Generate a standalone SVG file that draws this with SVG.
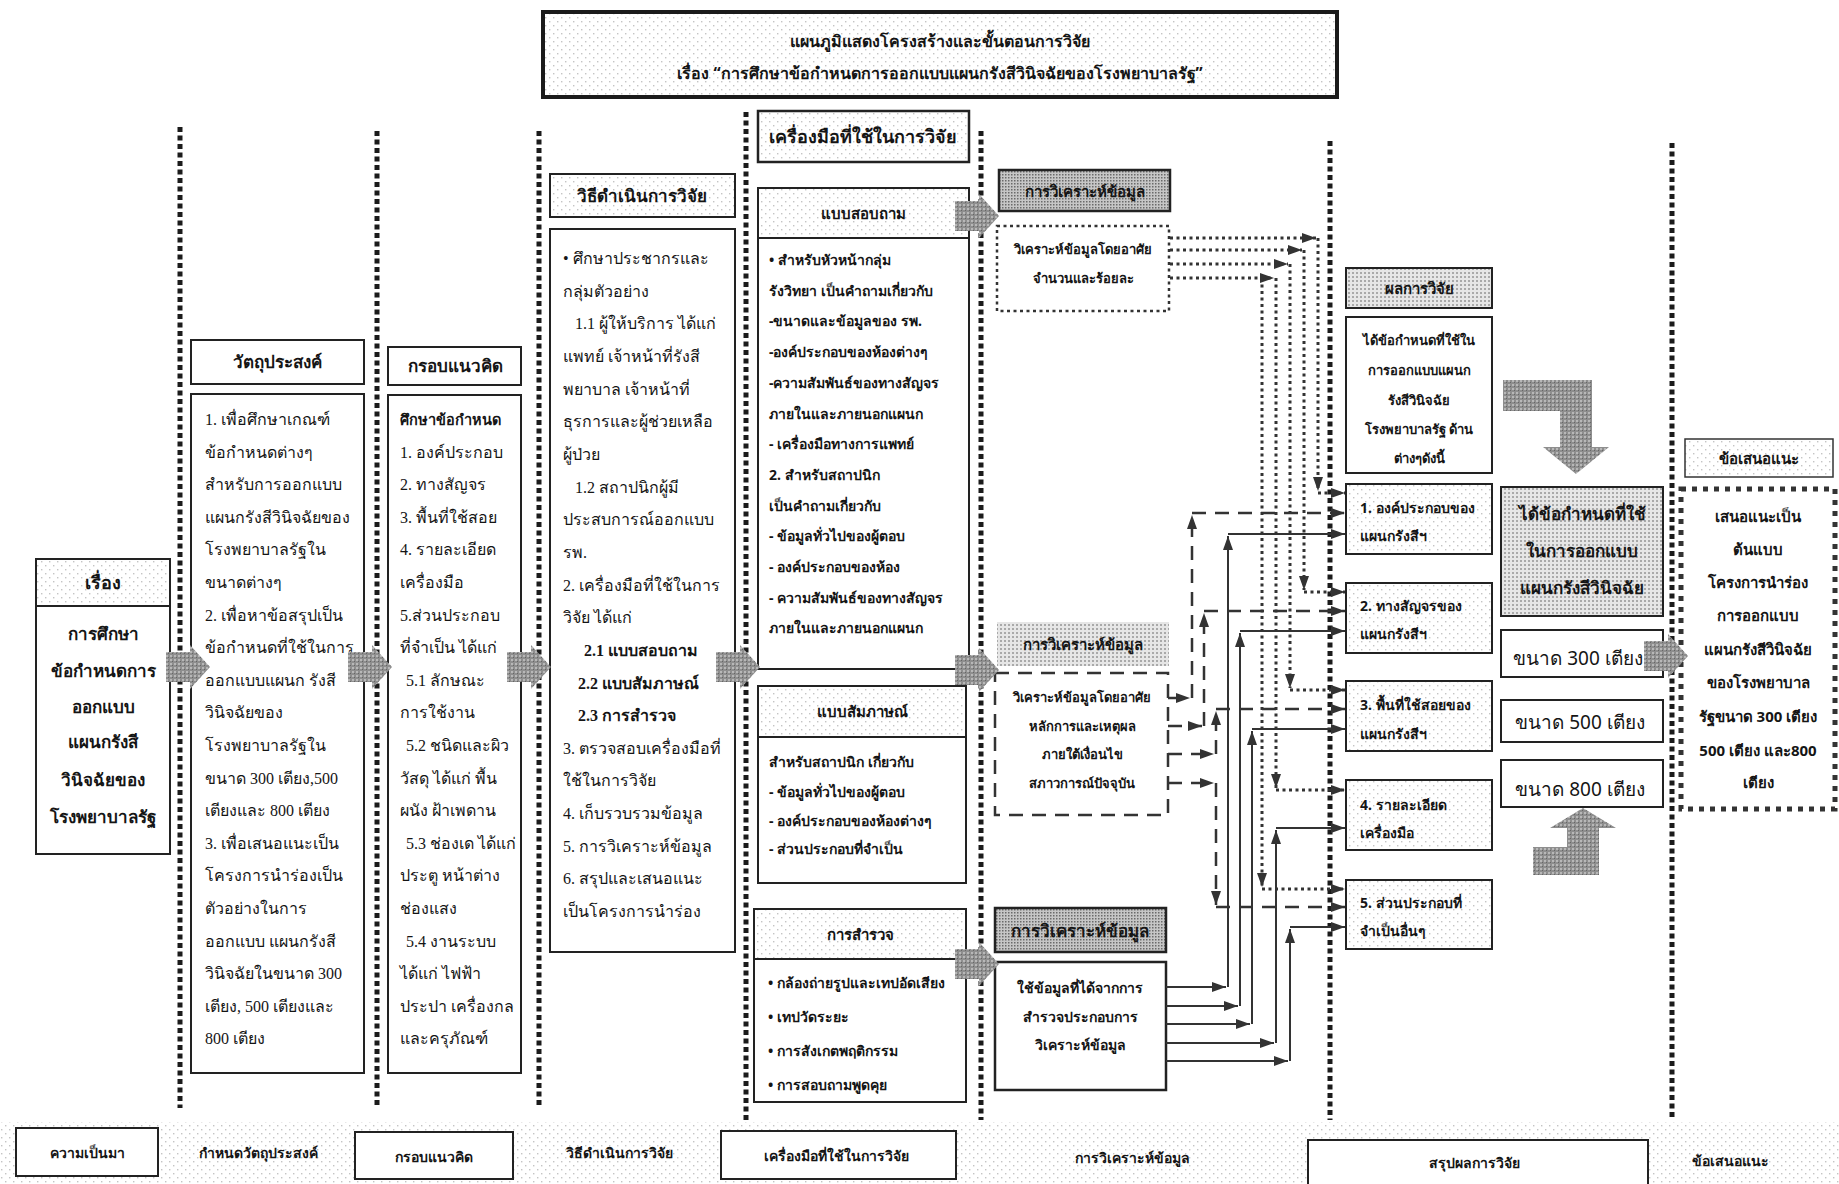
<svg xmlns="http://www.w3.org/2000/svg" width="1839" height="1184" viewBox="0 0 1839 1184">
<defs>
<style>
text{font-family:"Noto Sans","DejaVu Sans",sans-serif;fill:#151515}
.s{font-family:"Liberation Serif","Noto Sans",serif;font-size:16px}
.m{font-size:14px;font-weight:bold}
.h{font-weight:bold;text-anchor:middle}
.c{text-anchor:middle}
.bd{font-weight:bold}
.box{fill:#fff;stroke:#222;stroke-width:2}
.sep{fill:none;stroke:#1b1b1b;stroke-width:5;stroke-dasharray:5 3.5}
.dt{fill:none;stroke:#333;stroke-width:3;stroke-dasharray:3 3.5}
.ds{fill:none;stroke:#333;stroke-width:2.5;stroke-dasharray:14 9}
.sl{fill:none;stroke:#333;stroke-width:2}
</style>
<pattern id="pLight" width="8" height="8" patternUnits="userSpaceOnUse"><rect width="8" height="8" fill="#fff"/><rect x="1" y="1" width="1.4" height="1.4" fill="#c4c4c4"/><rect x="5" y="5" width="1.4" height="1.4" fill="#c4c4c4"/></pattern>
<pattern id="pMed" width="4" height="4" patternUnits="userSpaceOnUse"><rect width="4" height="4" fill="#e6e6e6"/><rect width="2" height="2" fill="#a9a9a9"/></pattern>
<pattern id="pDark" width="3" height="3" patternUnits="userSpaceOnUse"><rect width="3" height="3" fill="#c6c6c6"/><rect width="1.5" height="1.5" fill="#6a6a6a"/></pattern>
<pattern id="pArrow" width="4" height="4" patternUnits="userSpaceOnUse"><rect width="4" height="4" fill="#8e8e8e"/><rect width="2" height="2" fill="#b8b8b8"/><rect x="2" y="2" width="1" height="1" fill="#666"/></pattern>
<marker id="ah" viewBox="0 0 14 10" refX="14" refY="5" markerWidth="14" markerHeight="10" markerUnits="userSpaceOnUse" orient="auto"><path d="M0 0L14 5L0 10z" fill="#333"/></marker>
<path id="blk" d="M0 -15H24V-22L44 0L24 22V15H0Z"/>
</defs>

<rect width="1839" height="1184" fill="#fff"/>

<!-- column separators -->
<g id="separators">
<line class="sep" x1="180" y1="127" x2="180" y2="1108"/>
<line class="sep" x1="377" y1="131" x2="377" y2="1108"/>
<line class="sep" x1="539" y1="131" x2="539" y2="1108"/>
<line class="sep" x1="746" y1="112" x2="746" y2="1120"/>
<line class="sep" x1="981" y1="131" x2="981" y2="1120"/>
<line class="sep" x1="1330" y1="141" x2="1330" y2="1120"/>
<line class="sep" x1="1672" y1="143" x2="1672" y2="1120"/>
</g>

<!-- heading -->
<g id="title">
<rect x="543" y="12" width="794" height="85" fill="url(#pLight)" stroke="#1b1b1b" stroke-width="4"/>
<text class="h" x="940" y="47" font-size="16">แผนภูมิแสดงโครงสร้างและขั้นตอนการวิจัย</text>
<text class="h" x="940" y="79" font-size="16">เรื่อง “การศึกษาข้อกำหนดการออกแบบแผนกรังสีวินิจฉัยของโรงพยาบาลรัฐ”</text>
</g>

<!-- topic -->
<g id="topic">
<rect x="36" y="559" width="134" height="47" fill="url(#pLight)" stroke="#222" stroke-width="2"/>
<text class="h" x="103" y="589" font-size="18">เรื่อง</text>
<rect class="box" x="36" y="606" width="134" height="248"/>
<text class="h" font-size="17"><tspan x="103" y="640">การศึกษา</tspan><tspan x="103" y="677">ข้อกำหนดการ</tspan><tspan x="103" y="713">ออกแบบ</tspan><tspan x="103" y="748">แผนกรังสี</tspan><tspan x="103" y="786">วินิจฉัยของ</tspan><tspan x="103" y="823">โรงพยาบาลรัฐ</tspan></text>
</g>

<!-- objectives -->
<g id="objectives">
<rect class="box" x="191" y="340" width="173" height="44"/>
<text class="h" x="277" y="368" font-size="17">วัตถุประสงค์</text>
<rect class="box" x="191" y="394" width="173" height="679"/>
<text class="s"><tspan x="205" y="425">1. เพื่อศึกษาเกณฑ์</tspan><tspan x="205" y="458">ข้อกำหนดต่างๆ</tspan><tspan x="205" y="490">สำหรับการออกแบบ</tspan><tspan x="205" y="523">แผนกรังสีวินิจฉัยของ</tspan><tspan x="205" y="555">โรงพยาบาลรัฐใน</tspan><tspan x="205" y="588">ขนาดต่างๆ</tspan><tspan x="205" y="621">2. เพื่อหาข้อสรุปเป็น</tspan><tspan x="205" y="653">ข้อกำหนดที่ใช้ในการ</tspan><tspan x="205" y="686">ออกแบบแผนก รังสี</tspan><tspan x="205" y="718">วินิจฉัยของ</tspan><tspan x="205" y="751">โรงพยาบาลรัฐใน</tspan><tspan x="205" y="784">ขนาด 300 เตียง,500</tspan><tspan x="205" y="816">เตียงและ 800 เตียง</tspan><tspan x="205" y="849">3. เพื่อเสนอแนะเป็น</tspan><tspan x="205" y="881">โครงการนำร่องเป็น</tspan><tspan x="205" y="914">ตัวอย่างในการ</tspan><tspan x="205" y="947">ออกแบบ แผนกรังสี</tspan><tspan x="205" y="979">วินิจฉัยในขนาด 300</tspan><tspan x="205" y="1012">เตียง, 500 เตียงและ</tspan><tspan x="205" y="1044">800 เตียง</tspan></text>
</g>

<!-- conceptual framework -->
<g id="framework">
<rect class="box" x="388" y="347" width="133" height="38"/>
<text class="h" x="455" y="372" font-size="17">กรอบแนวคิด</text>
<rect class="box" x="388" y="395" width="133" height="678"/>
<text class="s" font-size="15.5"><tspan x="400" y="425" font-weight="bold" font-size="14.5">ศึกษาข้อกำหนด</tspan><tspan x="400" y="458">1. องค์ประกอบ</tspan><tspan x="400" y="490">2. ทางสัญจร</tspan><tspan x="400" y="523">3. พื้นที่ใช้สอย</tspan><tspan x="400" y="555">4. รายละเอียด</tspan><tspan x="400" y="588">เครื่องมือ</tspan><tspan x="400" y="621">5.ส่วนประกอบ</tspan><tspan x="400" y="653">ที่จำเป็น ได้แก่</tspan><tspan x="406" y="686">5.1 ลักษณะ</tspan><tspan x="400" y="718">การใช้งาน</tspan><tspan x="406" y="751">5.2 ชนิดและผิว</tspan><tspan x="400" y="784">วัสดุ ได้แก่  พื้น</tspan><tspan x="400" y="816">ผนัง ฝ้าเพดาน</tspan><tspan x="406" y="849">5.3 ช่องเด ได้แก่</tspan><tspan x="400" y="881">ประตู หน้าต่าง</tspan><tspan x="400" y="914">ช่องแสง</tspan><tspan x="406" y="947">5.4 งานระบบ</tspan><tspan x="400" y="979">ได้แก่ ไฟฟ้า</tspan><tspan x="400" y="1012">ประปา เครื่องกล</tspan><tspan x="400" y="1044">และครุภัณฑ์</tspan></text>
</g>

<!-- research method -->
<g id="method">
<rect x="550" y="174" width="185" height="43" fill="url(#pLight)" stroke="#222" stroke-width="2"/>
<text class="h" x="642" y="202" font-size="17">วิธีดำเนินการวิจัย</text>
<rect class="box" x="550" y="229" width="185" height="723"/>
<text class="s"><tspan x="563" y="264">• ศึกษาประชากรและ</tspan><tspan x="563" y="297">กลุ่มตัวอย่าง</tspan><tspan x="575" y="329">1.1 ผู้ให้บริการ ได้แก่</tspan><tspan x="563" y="362">แพทย์ เจ้าหน้าที่รังสี</tspan><tspan x="563" y="395">พยาบาล เจ้าหน้าที่</tspan><tspan x="563" y="427">ธุรการและผู้ช่วยเหลือ</tspan><tspan x="563" y="460">ผู้ป่วย</tspan><tspan x="575" y="493">1.2 สถาปนิกผู้มี</tspan><tspan x="563" y="525">ประสบการณ์ออกแบบ</tspan><tspan x="563" y="558">รพ.</tspan><tspan x="563" y="591">2. เครื่องมือที่ใช้ในการ</tspan><tspan x="563" y="623">วิจัย ได้แก่</tspan><tspan x="584" y="656" font-weight="bold">2.1 แบบสอบถาม</tspan><tspan x="578" y="689" font-weight="bold">2.2 แบบสัมภาษณ์</tspan><tspan x="578" y="721" font-weight="bold">2.3 การสำรวจ</tspan><tspan x="563" y="754">3. ตรวจสอบเครื่องมือที่</tspan><tspan x="563" y="786">ใช้ในการวิจัย</tspan><tspan x="563" y="819">4. เก็บรวบรวมข้อมูล</tspan><tspan x="563" y="852">5. การวิเคราะห์ข้อมูล</tspan><tspan x="563" y="884">6. สรุปและเสนอแนะ</tspan><tspan x="563" y="917">เป็นโครงการนำร่อง</tspan></text>
</g>

<!-- research instruments -->
<g id="instruments">
<rect x="758" y="111" width="211" height="51" fill="url(#pLight)" stroke="#222" stroke-width="2.5"/>
<text class="h" x="863" y="143" font-size="18">เครื่องมือที่ใช้ในการวิจัย</text>
</g>
<g id="questionnaire">
<rect x="758" y="188" width="211" height="50" fill="url(#pLight)" stroke="#222" stroke-width="2"/>
<text class="h" x="863" y="219" font-size="15">แบบสอบถาม</text>
<rect class="box" x="758" y="238" width="211" height="431"/>
<text class="m"><tspan x="769" y="265">• สำหรับหัวหน้ากลุ่ม</tspan><tspan x="769" y="296">รังวิทยา เป็นคำถามเกี่ยวกับ</tspan><tspan x="769" y="326">-ขนาดและข้อมูลของ รพ.</tspan><tspan x="769" y="357">-องค์ประกอบของห้องต่างๆ</tspan><tspan x="769" y="388">-ความสัมพันธ์ของทางสัญจร</tspan><tspan x="769" y="419">ภายในและภายนอกแผนก</tspan><tspan x="769" y="449">- เครื่องมือทางการแพทย์</tspan><tspan x="769" y="480">2. สำหรับสถาปนิก</tspan><tspan x="769" y="511">เป็นคำถามเกี่ยวกับ</tspan><tspan x="769" y="541">- ข้อมูลทั่วไปของผู้ตอบ</tspan><tspan x="769" y="572">- องค์ประกอบของห้อง</tspan><tspan x="769" y="603">- ความสัมพันธ์ของทางสัญจร</tspan><tspan x="769" y="633">ภายในและภายนอกแผนก</tspan></text>
</g>
<g id="interview">
<rect x="758" y="686" width="208" height="51" fill="url(#pLight)" stroke="#222" stroke-width="2"/>
<text class="h" x="862" y="717" font-size="15">แบบสัมภาษณ์</text>
<rect class="box" x="758" y="737" width="208" height="146"/>
<text class="m"><tspan x="769" y="767">สำหรับสถาปนิก  เกี่ยวกับ</tspan><tspan x="769" y="797">- ข้อมูลทั่วไปของผู้ตอบ</tspan><tspan x="769" y="826">- องค์ประกอบของห้องต่างๆ</tspan><tspan x="769" y="854">- ส่วนประกอบที่จำเป็น</tspan></text>
</g>
<g id="survey">
<rect x="754" y="909" width="212" height="50" fill="url(#pLight)" stroke="#222" stroke-width="2"/>
<text class="h" x="860" y="940" font-size="15">การสำรวจ</text>
<rect class="box" x="754" y="959" width="212" height="143"/>
<text class="m"><tspan x="768" y="988">• กล้องถ่ายรูปและเทปอัดเสียง</tspan><tspan x="768" y="1022">• เทปวัดระยะ</tspan><tspan x="768" y="1056">• การสังเกตพฤติกรรม</tspan><tspan x="768" y="1090">• การสอบถามพูดคุย</tspan></text>
</g>

<!-- data analysis -->
<g id="analysis-quant">
<rect x="999" y="170" width="171" height="41" fill="url(#pDark)" stroke="#222" stroke-width="2.5"/>
<text class="h" x="1085" y="197" font-size="15">การวิเคราะห์ข้อมูล</text>
<rect x="997" y="226" width="172" height="85" fill="#fff" stroke="#333" stroke-width="2.5" stroke-dasharray="3 3.5"/>
<text class="h" font-size="13"><tspan x="1083" y="254">วิเคราะห์ข้อมูลโดยอาศัย</tspan><tspan x="1083" y="283">จำนวนและร้อยละ</tspan></text>
</g>
<g id="analysis-qual">
<rect x="997" y="622" width="172" height="44" fill="url(#pMed)"/>
<text class="h" x="1083" y="650" font-size="15">การวิเคราะห์ข้อมูล</text>
<rect x="995" y="673" width="173" height="142" fill="#fff" stroke="#333" stroke-width="2.5" stroke-dasharray="14 9"/>
<text class="h" font-size="13"><tspan x="1082" y="702">วิเคราะห์ข้อมูลโดยอาศัย</tspan><tspan x="1082" y="731">หลักการและเหตุผล</tspan><tspan x="1082" y="759">ภายใต้เงื่อนไข</tspan><tspan x="1082" y="788">สภาวการณ์ปัจจุบัน</tspan></text>
</g>
<g id="analysis-survey">
<rect x="995" y="908" width="171" height="44" fill="url(#pDark)" stroke="#222" stroke-width="2.5"/>
<text class="h" x="1080" y="937" font-size="17">การวิเคราะห์ข้อมูล</text>
<rect x="995" y="962" width="171" height="128" fill="#fff" stroke="#222" stroke-width="2.5"/>
<text class="h" font-size="14"><tspan x="1080" y="993">ใช้ข้อมูลที่ได้จากการ</tspan><tspan x="1080" y="1022">สำรวจประกอบการ</tspan><tspan x="1080" y="1050">วิเคราะห์ข้อมูล</tspan></text>
</g>

<!-- findings -->
<g id="findings">
<rect x="1346" y="268" width="146" height="40" fill="url(#pMed)" stroke="#222" stroke-width="2"/>
<text class="h" x="1419" y="294" font-size="15">ผลการวิจัย</text>
<rect class="box" x="1346" y="317" width="146" height="156"/>
<text class="h" font-size="13"><tspan x="1419" y="345">ได้ข้อกำหนดที่ใช้ใน</tspan><tspan x="1419" y="375">การออกแบบแผนก</tspan><tspan x="1419" y="405">รังสีวินิจฉัย</tspan><tspan x="1419" y="434">โรงพยาบาลรัฐ ด้าน</tspan><tspan x="1419" y="463">ต่างๆดังนี้</tspan></text>
</g>
<g id="finding-1">
<rect x="1346" y="484" width="146" height="70" fill="url(#pLight)" stroke="#222" stroke-width="2"/>
<text class="m" font-size="13"><tspan x="1360" y="513">1. องค์ประกอบของ</tspan><tspan x="1360" y="541">แผนกรังสีฯ</tspan></text>
</g>
<g id="finding-2">
<rect x="1346" y="583" width="146" height="70" fill="url(#pLight)" stroke="#222" stroke-width="2"/>
<text class="m" font-size="13"><tspan x="1360" y="611">2. ทางสัญจรของ</tspan><tspan x="1360" y="639">แผนกรังสีฯ</tspan></text>
</g>
<g id="finding-3">
<rect x="1346" y="681" width="146" height="70" fill="url(#pLight)" stroke="#222" stroke-width="2"/>
<text class="m" font-size="13"><tspan x="1360" y="710">3. พื้นที่ใช้สอยของ</tspan><tspan x="1360" y="739">แผนกรังสีฯ</tspan></text>
</g>
<g id="finding-4">
<rect x="1346" y="780" width="146" height="70" fill="url(#pLight)" stroke="#222" stroke-width="2"/>
<text class="m" font-size="13"><tspan x="1360" y="810">4. รายละเอียด</tspan><tspan x="1360" y="838">เครื่องมือ</tspan></text>
</g>
<g id="finding-5">
<rect x="1346" y="880" width="146" height="69" fill="url(#pLight)" stroke="#222" stroke-width="2"/>
<text class="m" font-size="13"><tspan x="1360" y="908">5. ส่วนประกอบที่</tspan><tspan x="1360" y="936">จำเป็นอื่นๆ</tspan></text>
</g>

<!-- design requirements by size -->
<g id="requirements">
<rect x="1501" y="487" width="162" height="129" fill="url(#pMed)" stroke="#222" stroke-width="2"/>
<text class="h" font-size="17"><tspan x="1582" y="520">ได้ข้อกำหนดที่ใช้</tspan><tspan x="1582" y="557">ในการออกแบบ</tspan><tspan x="1582" y="594">แผนกรังสีวินิจฉัย</tspan></text>
</g>
<g id="size-300">
<rect class="box" x="1501" y="630" width="162" height="47" stroke-width="3.5"/>
<text class="c" x="1578" y="665" font-size="19">ขนาด 300 เตียง</text>
</g>
<g id="size-500">
<rect class="box" x="1501" y="700" width="162" height="42" stroke-width="3.5"/>
<text class="c" x="1580" y="729" font-size="19">ขนาด 500 เตียง</text>
</g>
<g id="size-800">
<rect class="box" x="1501" y="760" width="162" height="47" stroke-width="3.5"/>
<text class="c" x="1580" y="796" font-size="19">ขนาด 800 เตียง</text>
</g>

<!-- recommendations -->
<g id="recommendation">
<rect x="1685" y="439" width="148" height="38" fill="url(#pLight)" stroke="#333" stroke-width="1.5"/>
<text class="h" x="1759" y="464" font-size="15">ข้อเสนอแนะ</text>
<rect x="1681" y="489" width="154" height="320" fill="#fff" stroke="#333" stroke-width="5" stroke-dasharray="5 6"/>
<text class="h" font-size="15"><tspan x="1758" y="522">เสนอแนะเป็น</tspan><tspan x="1758" y="555">ต้นแบบ</tspan><tspan x="1758" y="588">โครงการนำร่อง</tspan><tspan x="1758" y="621">การออกแบบ</tspan><tspan x="1758" y="655">แผนกรังสีวินิจฉัย</tspan><tspan x="1758" y="688">ของโรงพยาบาล</tspan><tspan x="1758" y="722">รัฐขนาด 300 เตียง</tspan><tspan x="1758" y="756">500 เตียง และ800</tspan><tspan x="1758" y="788">เตียง</tspan></text>
</g>

<!-- broad grey flow arrows -->
<g id="flow-arrows" fill="url(#pArrow)">
<use href="#blk" x="166" y="667"/>
<use href="#blk" x="348" y="667"/>
<use href="#blk" x="507" y="667"/>
<use href="#blk" x="716" y="667"/>
<use href="#blk" x="955" y="216"/>
<use href="#blk" x="955" y="670"/>
<use href="#blk" x="955" y="964"/>
<use href="#blk" x="1644" y="656"/>
<path d="M1503 380H1592V447H1609L1576 474L1543 447H1560V411H1503Z"/>
<path d="M1533 847H1567V828H1550L1583 808L1616 828H1599V875H1533Z"/>
</g>

<!-- connectors from analysis to findings -->
<g id="connectors">
<!-- quantitative analysis (dotted) -->
<path class="dt" d="M1170 238H1316" marker-end="url(#ah)"/>
<path class="dt" d="M1318 238V491" marker-end="url(#ah)"/>
<path class="dt" d="M1318 493H1345" marker-end="url(#ah)"/>
<path class="dt" d="M1170 250H1302" marker-end="url(#ah)"/>
<path class="dt" d="M1304 250V590" marker-end="url(#ah)"/>
<path class="dt" d="M1304 592H1345" marker-end="url(#ah)"/>
<path class="dt" d="M1170 264H1288" marker-end="url(#ah)"/>
<path class="dt" d="M1290 264V688" marker-end="url(#ah)"/>
<path class="dt" d="M1290 690H1345" marker-end="url(#ah)"/>
<path class="dt" d="M1170 278H1274" marker-end="url(#ah)"/>
<path class="dt" d="M1276 278V788" marker-end="url(#ah)"/>
<path class="dt" d="M1276 790H1345" marker-end="url(#ah)"/>
<path class="dt" d="M1262 278V887" marker-end="url(#ah)"/>
<path class="dt" d="M1262 889H1345" marker-end="url(#ah)"/>
<!-- qualitative analysis (dashed) -->
<path class="ds" d="M1168 698H1190" marker-end="url(#ah)"/>
<path class="ds" d="M1192 698V515" marker-end="url(#ah)"/>
<path class="ds" d="M1192 513H1345" marker-end="url(#ah)"/>
<path class="ds" d="M1168 726H1202" marker-end="url(#ah)"/>
<path class="ds" d="M1204 726V613" marker-end="url(#ah)"/>
<path class="ds" d="M1204 611H1345" marker-end="url(#ah)"/>
<path class="ds" d="M1168 754H1214" marker-end="url(#ah)"/>
<path class="ds" d="M1216 754V711" marker-end="url(#ah)"/>
<path class="ds" d="M1216 709H1345" marker-end="url(#ah)"/>
<path class="ds" d="M1168 783H1214" marker-end="url(#ah)"/>
<path class="ds" d="M1216 783V905" marker-end="url(#ah)"/>
<path class="ds" d="M1216 907H1345" marker-end="url(#ah)"/>
<!-- survey-based analysis (solid) -->
<path class="sl" d="M1166 987H1226" marker-end="url(#ah)"/>
<path class="sl" d="M1228 987V536" marker-end="url(#ah)"/>
<path class="sl" d="M1228 534H1345" marker-end="url(#ah)"/>
<path class="sl" d="M1166 1006H1238" marker-end="url(#ah)"/>
<path class="sl" d="M1240 1006V633" marker-end="url(#ah)"/>
<path class="sl" d="M1240 631H1345" marker-end="url(#ah)"/>
<path class="sl" d="M1166 1024H1250" marker-end="url(#ah)"/>
<path class="sl" d="M1252 1024V731" marker-end="url(#ah)"/>
<path class="sl" d="M1252 729H1345" marker-end="url(#ah)"/>
<path class="sl" d="M1166 1043H1274" marker-end="url(#ah)"/>
<path class="sl" d="M1276 1043V830" marker-end="url(#ah)"/>
<path class="sl" d="M1276 828H1345" marker-end="url(#ah)"/>
<path class="sl" d="M1166 1061H1288" marker-end="url(#ah)"/>
<path class="sl" d="M1290 1061V929" marker-end="url(#ah)"/>
<path class="sl" d="M1290 927H1345" marker-end="url(#ah)"/>
</g>

<!-- stage legend along the bottom -->
<g id="legend">
<rect x="0" y="1122" width="1839" height="62" fill="url(#pLight)"/>
<rect class="box" x="16" y="1128" width="142" height="48"/>
<text class="h" x="87" y="1158" font-size="14">ความเป็นมา</text>
<text class="h" x="258" y="1158" font-size="14">กำหนดวัตถุประสงค์</text>
<rect class="box" x="355" y="1132" width="158" height="47"/>
<text class="h" x="434" y="1162" font-size="14">กรอบแนวคิด</text>
<text class="h" x="619" y="1158" font-size="14">วิธีดำเนินการวิจัย</text>
<rect class="box" x="721" y="1131" width="235" height="48"/>
<text class="h" x="836" y="1161" font-size="14">เครื่องมือที่ใช้ในการวิจัย</text>
<text class="h" x="1132" y="1163" font-size="14">การวิเคราะห์ข้อมูล</text>
<rect class="box" x="1308" y="1140" width="340" height="50"/>
<text class="h" x="1474" y="1168" font-size="14">สรุปผลการวิจัย</text>
<text class="h" x="1730" y="1166" font-size="14">ข้อเสนอแนะ</text>
</g>
</svg>
